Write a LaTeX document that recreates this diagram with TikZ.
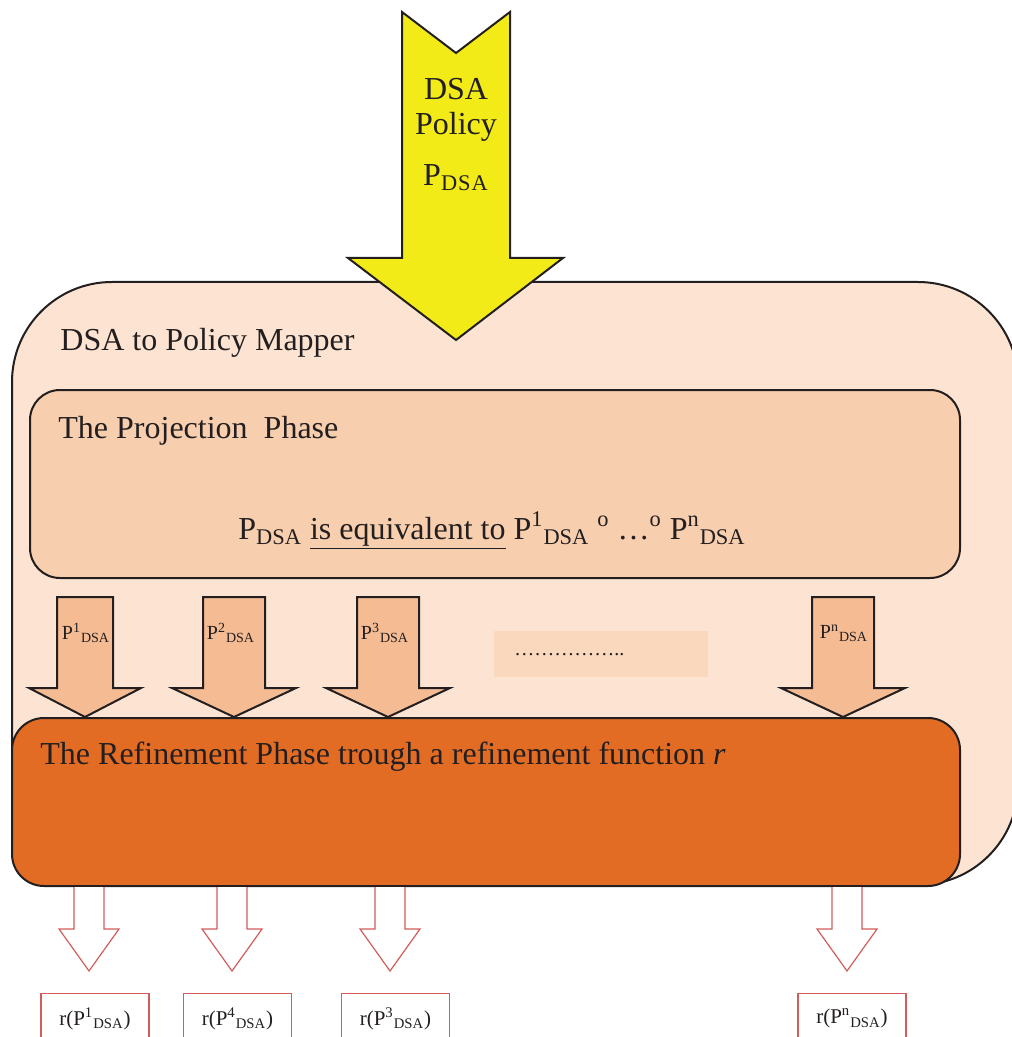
\documentclass[tikz,border=0pt]{standalone}
\usepackage{fontspec}
\setmainfont{Liberation Serif}
\definecolor{txt}{HTML}{231F20}
\definecolor{mapperfill}{HTML}{FDE4D2}
\definecolor{projfill}{HTML}{F8CFAE}
\definecolor{smallarrow}{HTML}{F5BB93}
\definecolor{dotsfill}{HTML}{FAD8BE}
\definecolor{refinefill}{HTML}{E36C25}
\definecolor{policyyellow}{HTML}{F2EB18}
\definecolor{outred}{HTML}{D35C5C}
\tikzset{
  blackline/.style={draw=txt, line width=1pt, line join=miter},
  bigtext/.style={text=txt, font=\fontsize{16}{19}\selectfont, inner sep=0pt},
  smalltext/.style={text=txt, font=\fontsize{10}{12}\selectfont, inner sep=0pt},
  restext/.style={text=txt, font=\fontsize{10.5}{12}\selectfont, inner sep=0pt},
  projarrow/.style={blackline, fill=smallarrow},
  resarrow/.style={draw=outred, line width=0.6pt, fill=white},
  resbox/.style={draw=outred, line width=0.6pt, fill=white, minimum width=54pt, minimum height=25pt, anchor=north, inner sep=0pt},
}
\begin{document}
\begin{tikzpicture}[x=0.5pt,y=-0.5pt]
\useasboundingbox (0,0) rectangle (1011,1037);

% container
\node[blackline, fill=mapperfill, rounded corners=50pt, minimum width=503pt, minimum height=301.5pt, inner sep=0pt] (mapper) at (515,583.5) {};

% yellow input arrow
\draw[blackline, fill=policyyellow] (402,12) -- (456,53) -- (510,12) -- (510,258) -- (563,258) -- (456,340) -- (348,258) -- (402,258) -- cycle;
\node[bigtext] (dsa) at (456,89) {DSA};
\node[bigtext] (policy) at (456,127) {Policy};
\node[bigtext] (pdsa) at (456,178) {P\textsubscript{D\kern0.5pt S\kern0.5pt A}};

\node[bigtext, anchor=west] (mappertitle) at (60,343) {DSA to Policy Mapper};

% projection phase
\node[blackline, fill=projfill, rounded corners=15pt, minimum width=465pt, minimum height=94pt, inner sep=0pt] (proj) at (495,484) {};
\node[bigtext, anchor=west] (projtitle) at (58,431) {The Projection\ \ Phase};
\node[bigtext] (equiv) at (492,531) {P\textsubscript{DSA} \underline{is equivalent to} P\textsuperscript{1}\textsubscript{DSA} \textsuperscript{o} \ldots\textsuperscript{o} P\textsuperscript{n}\textsubscript{DSA}};

% dotted placeholder
\node[fill=dotsfill, minimum width=107pt, minimum height=23pt, inner sep=0pt] (dots) at (601,654) {};
\node[smalltext, anchor=west] (dotstext) at (514,655) {\ldots\ldots\ldots\ldots\ldots..};

% projection arrows
\foreach \cx/\sw/\hw in {85/28/56, 234/31/62, 388/31/62, 843/31/62}{
  \draw[projarrow] (\cx-\sw,597) -- (\cx+\sw,597) -- (\cx+\sw,688) -- (\cx+\hw,688) -- (\cx,717) -- (\cx-\hw,688) -- (\cx-\sw,688) -- cycle;
}
\node[smalltext] (l1) at (86,633) {P\textsuperscript{1}\textsubscript{DSA}};
\node[smalltext] (l2) at (231,633) {P\textsuperscript{2}\textsubscript{DSA}};
\node[smalltext] (l3) at (385,633) {P\textsuperscript{3}\textsubscript{DSA}};
\node[smalltext] (ln) at (844,633) {P\textsuperscript{n}\textsubscript{DSA}};

% refinement phase
\node[blackline, fill=refinefill, rounded corners=16pt, minimum width=474pt, minimum height=84pt, inner sep=0pt] (refine) at (486,802) {};
\node[bigtext, anchor=west] (refinetitle) at (40,757) {The Refinement Phase trough a refinement function \textit{r}};

% result arrows
\foreach \cx in {89,232,390,847}{
  \draw[resarrow] (\cx-15,887) -- (\cx-15,929) -- (\cx-30,929) -- (\cx,971) -- (\cx+30,929) -- (\cx+15,929) -- (\cx+15,887);
}

% result boxes
\node[resbox, restext] (r1) at (95,993) {r(P\textsuperscript{1}\textsubscript{DSA})};
\node[resbox, restext] (r2) at (237.5,993) {r(P\textsuperscript{4}\textsubscript{DSA})};
\node[resbox, restext] (r3) at (395.5,993) {r(P\textsuperscript{3}\textsubscript{DSA})};
\node[resbox, restext] (rn) at (852,993) {r(P\textsuperscript{n}\textsubscript{DSA})};
\end{tikzpicture}
\end{document}
